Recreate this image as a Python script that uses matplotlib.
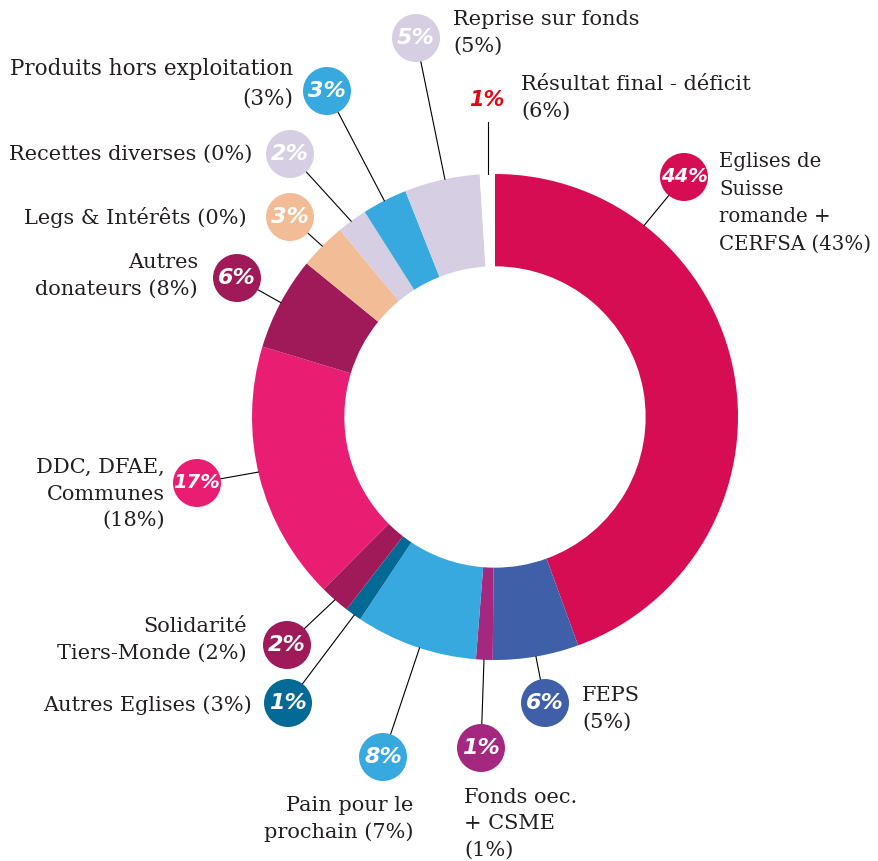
import matplotlib
matplotlib.use("Agg")
import matplotlib.pyplot as plt
from matplotlib.patches import Circle
import numpy as np

# ---- data (clockwise from 12 o'clock) ----
categories = ["Eglises de Suisse romande + CERFSA", "FEPS", "Fonds oec. + CSME",
              "Pain pour le prochain", "Autres Eglises", "Solidarité Tiers-Monde",
              "DDC, DFAE, Communes", "Autres donateurs", "Legs & Intérêts",
              "Recettes diverses", "Produits hors exploitation", "Reprise sur fonds",
              "Résultat final - déficit"]
values = [44.4, 5.7, 1.1, 8.1, 1.1, 2.0, 17.2, 6.2, 3.1, 2.0, 3.0, 5.0, 1.0]
bubble_labels = ["44%", "6%", "1%", "8%", "1%", "2%", "17%", "6%", "3%", "2%", "3%", "5%", "1%"]
text_labels = ["Eglises de\nSuisse\nromande +\nCERFSA (43%)", "FEPS\n(5%)", "Fonds oec.\n+ CSME\n(1%)",
               "Pain pour le\nprochain (7%)", "Autres Eglises (3%)", "Solidarité\nTiers-Monde (2%)",
               "DDC, DFAE,\nCommunes\n(18%)", "Autres\ndonateurs (8%)", "Legs & Intérêts (0%)",
               "Recettes diverses (0%)", "Produits hors exploitation\n(3%)", "Reprise sur fonds\n(5%)",
               "Résultat final - déficit\n(6%)"]

colors = ["#D60D52", "#3F5FA9", "#A4287F", "#38A9DF", "#026A95", "#A01A5A",
          "#E91E72", "#A01A5A", "#F2BD96", "#D6CFE3", "#38A9DF", "#D6CFE3", "#FFFFFF"]

# ---- layout (pixel positions in the 879x861 image) ----
W, H = 879, 861
CX, CY, R = 495, 417, 243
bubble_pos = [(684, 177), (545, 703), (481, 748), (383, 757), (288, 703), (287, 645),
              (197, 483), (237, 278), (290, 217), (290, 154), (327, 91), (416, 38), (487, 100)]
contact_ang = [37.9, 170.3, 182.6, 198.1, 215.4, 221.2, 256.9, 298.1, 314.7, 323.7, 332.9, 348.1, 358.3]
text_pos = [(719, 203), (582, 709), (464, 824), (413, 819), (252, 705), (247, 640),
            (165, 494), (198, 276), (247, 217), (252, 154), (293, 84), (453, 33), (521, 98)]
text_ha = ["left", "left", "left", "right", "right", "right", "right", "right", "right",
           "right", "right", "left", "left"]
text_size = [14.2, 15, 15, 15, 15, 15, 15, 15, 15, 15, 15.5, 15, 15]
LINE_PX = 27.5


def px(x, y):
    return (x - CX) / R, (CY - y) / R


fig = plt.figure(figsize=(W / 100, H / 100), dpi=100)
ax = fig.add_axes([0, 0, 1, 1])
ax.set_aspect("equal")
ax.axis("off")

ax.pie(values, colors=colors, startangle=90, counterclock=False, radius=1.0,
       wedgeprops=dict(width=0.38, linewidth=0), center=(0, 0))
ax.set_xlim((0 - CX) / R, (W - CX) / R)
ax.set_ylim((CY - H) / R, CY / R)

label_font = dict(family="DejaVu Serif", color="#231F20")
bub_font = dict(family="DejaVu Sans", fontweight="bold", fontstyle="italic",
                color="white")

brad = 24 / R
for i in range(len(values)):
    bx, by = px(*bubble_pos[i])
    a = np.deg2rad(contact_ang[i])
    ex, ey = np.sin(a) * 1.0, np.cos(a) * 1.0
    last = i == len(values) - 1
    if last:
        ax.plot([ex, ex], [ey, by - 22 / R], color="black", lw=0.8, zorder=3)
        ax.text(bx, by, bubble_labels[i], ha="center", va="center", family="DejaVu Sans",
                fontweight="bold", fontstyle="italic", fontsize=15, color="#E30613", zorder=5)
    else:
        ax.plot([ex, bx], [ey, by], color="black", lw=0.8, zorder=3)
        ax.add_patch(Circle((bx, by), brad, color=colors[i], zorder=4, lw=0))
        fs = 14 if len(bubble_labels[i]) > 2 else 16
        ax.text(bx, by, bubble_labels[i], ha="center", va="center", zorder=5,
                fontsize=fs, **bub_font)
    tx, ty = px(*text_pos[i])
    ls = LINE_PX / (text_size[i] * 1.24)
    ax.text(tx, ty, text_labels[i], ha=text_ha[i], va="center", fontsize=text_size[i],
            linespacing=ls, multialignment=text_ha[i], **label_font)

fig.savefig("out.png", dpi=100)
